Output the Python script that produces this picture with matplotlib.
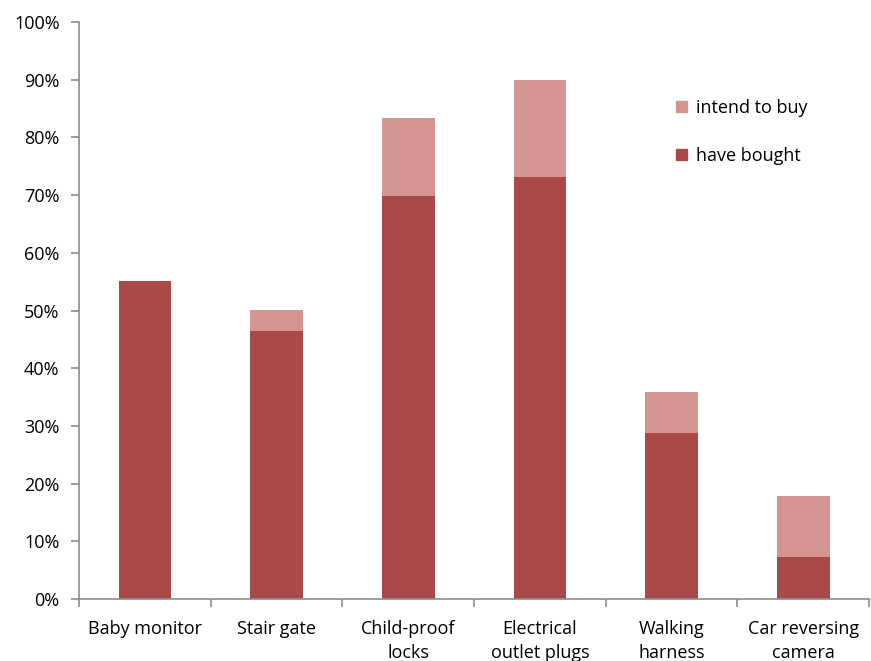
import numpy as np
import matplotlib.pyplot as plt
from matplotlib.patches import Patch

categories = ["Baby monitor", "Stair gate", "Child-proof\nlocks",
              "Electrical\noutlet plugs", "Walking\nharness", "Car reversing\ncamera"]
have_bought = [55.1, 46.4, 69.9, 73.2, 28.8, 7.3]
intend_to_buy = [0.0, 3.7, 13.4, 16.8, 7.0, 10.6]

dark_red = "#AA4A48"
light_red = "#D39492"
axis_grey = "#8C8C8C"

plt.rcParams['font.family'] = ['Open Sans', 'DejaVu Sans']
fs = 13

fig = plt.figure(figsize=(8.71, 6.61), dpi=100)
ax = fig.add_axes([79 / 871, 62 / 661, 790 / 871, 577 / 661])

x = np.arange(len(categories))
ax.bar(x, have_bought, width=0.4, color=dark_red, zorder=2)
ax.bar(x, intend_to_buy, width=0.4, bottom=have_bought, color=light_red, zorder=2)

ax.set_xlim(-0.5, len(categories) - 0.5)
ax.set_ylim(0, 100)
ax.set_yticks(np.arange(0, 101, 10))
ax.set_yticklabels([f"{v}%" for v in range(0, 101, 10)], fontsize=fs)
ax.set_xticks(x)
ax.set_xticklabels(categories, fontsize=fs, linespacing=1.45)
ax.set_xticks(np.arange(-0.5, len(categories)), minor=True)
ax.tick_params(axis='x', which='major', length=0, pad=15)
ax.tick_params(axis='x', which='minor', length=6, color=axis_grey, width=1.2)
ax.tick_params(axis='y', length=6, color=axis_grey, width=1.2, pad=8)

for side in ("top", "right"):
    ax.spines[side].set_visible(False)
for side in ("left", "bottom"):
    ax.spines[side].set_color(axis_grey)
    ax.spines[side].set_linewidth(1.2)

handles = [Patch(color=light_red, label="intend to buy"),
           Patch(color=dark_red, label="have bought")]
ax.legend(handles=handles, loc="upper left", bbox_to_anchor=(0.735, 0.895),
          frameon=False, fontsize=fs, handlelength=0.6, handleheight=0.6,
          handletextpad=0.5, labelspacing=1.65)

fig.savefig("out.png", dpi=100)
